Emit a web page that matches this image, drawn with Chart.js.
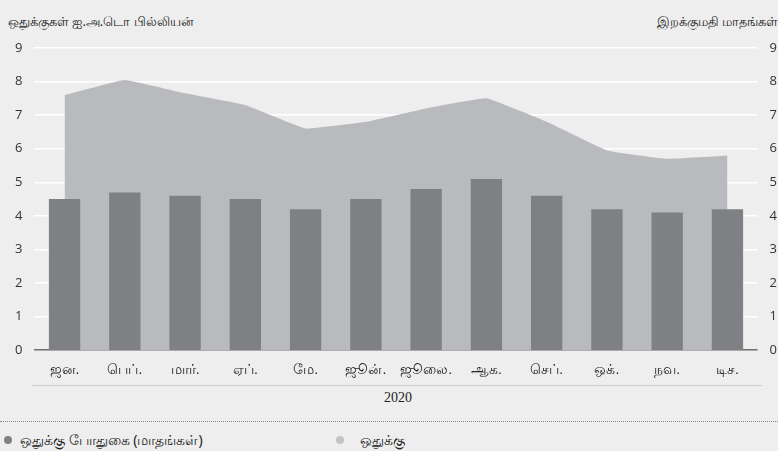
<!DOCTYPE html>
<html>
<head>
<meta charset="utf-8">
<script src="https://cdn.jsdelivr.net/npm/chart.js@4/dist/chart.umd.min.js"></script>
<style>
  html, body { margin: 0; padding: 0; }
  body { width: 778px; height: 451px; background: #eeeeee; overflow: hidden; position: relative; font-family: "Noto Sans", "DejaVu Sans", sans-serif; }
  #titreGauche { position: absolute; left: 8px; top: 12px; font-size: 13px; color: #222; }
  #titreDroit { position: absolute; right: 0px; top: 12px; font-size: 13px; color: #222; white-space: nowrap; }
  #boite { position: absolute; left: 0; top: 0; width: 789px; height: 383px; }
  #ligneMois { position: absolute; left: 32px; width: 730px; top: 385px; border-top: 1px solid #cfcfcf; }
  #annee { position: absolute; left: 0; width: 796px; top: 390px; text-align: center; font-family: "Liberation Serif", serif; font-size: 14px; color: #222; }
  #pointilles { position: absolute; left: 0; width: 778px; top: 421px; border-top: 1px dotted #888; }
  .legende { position: absolute; top: 430px; font-size: 14px; color: #222; white-space: nowrap; }
  .rond { display: inline-block; width: 8px; height: 8px; border-radius: 50%; margin-right: 8px; vertical-align: 1px; }
</style>
</head>
<body>
<div id="titreGauche">ஒதுக்குகள் ஐ.அ.டொ பில்லியன்</div>
<div id="titreDroit">இறக்குமதி மாதங்கள்</div>
<div id="boite"><canvas id="graficoPrincipal"></canvas></div>
<div id="ligneMois"></div>
<div id="annee">2020</div>
<div id="pointilles"></div>
<div class="legende" style="left:4px"><span class="rond" style="background:#7f8083"></span>ஒதுக்கு போதுகை (மாதங்கள்)</div>
<div class="legende" style="left:336px"><span class="rond" style="background:#c3c4c6;margin-right:16px"></span>ஒதுக்கு</div>
<script>
var meses = ["ஜன.", "பெப்.", "மார்.", "ஏப்.", "மே.", "ஜூன்.", "ஜூலை.", "ஆக.", "செப்.", "ஒக்.", "நவ.", "டிச."];
var mesesImportacao = [4.5, 4.7, 4.6, 4.5, 4.2, 4.5, 4.8, 5.1, 4.6, 4.2, 4.1, 4.2];
var reservas = [7.6, 8.05, 7.65, 7.3, 6.6, 6.8, 7.2, 7.5, 6.8, 5.95, 5.7, 5.8];
var ticksEixo = [0, 1, 2, 3, 4, 5, 6, 7, 8, 9];

var fonteTicks = { family: "Open Sans, Noto Sans, sans-serif", size: 13 };

var contexto = graficoPrincipal.getContext("2d");
new Chart(contexto, {
  type: "bar",
  data: {
    labels: meses,
    datasets: [
      {
        type: "bar",
        label: "ஒதுக்கு போதுகை (மாதங்கள்)",
        data: mesesImportacao,
        backgroundColor: "#7f8083",
        barPercentage: 0.52,
        categoryPercentage: 1,
        yAxisID: "y1",
        order: 0
      },
      {
        type: "line",
        label: "ஒதுக்கு",
        data: reservas,
        backgroundColor: "#b9babd",
        borderWidth: 0,
        pointRadius: 0,
        fill: "origin",
        tension: 0.08,
        yAxisID: "y",
        order: 1
      }
    ]
  },
  options: {
    responsive: true,
    maintainAspectRatio: false,
    animation: false,
    layout: { padding: { top: 48, left: 3, right: 0, bottom: 0 } },
    plugins: {
      legend: { display: false },
      tooltip: { enabled: false }
    },
    scales: {
      x: {
        offset: true,
        grid: { display: false },
        border: { display: false },
        ticks: { color: "#222", font: { size: 14 }, padding: 4, maxRotation: 0 }
      },
      y: {
        position: "left",
        min: 0,
        max: 9,
        afterBuildTicks: function (eixo) { eixo.ticks = ticksEixo.map(function (v) { return { value: v }; }); },
        grid: {
          color: function (c) { return c.tick && c.tick.value === 0 ? "#6f6f6f" : "#ffffff"; },
          lineWidth: 1.5,
          drawTicks: false
        },
        border: { display: false },
        ticks: { color: "#333", font: fonteTicks, padding: 12 }
      },
      y1: {
        position: "right",
        min: 0,
        max: 9,
        afterBuildTicks: function (eixo) { eixo.ticks = ticksEixo.map(function (v) { return { value: v }; }); },
        grid: { display: false, drawTicks: false },
        border: { display: false },
        ticks: { color: "#333", font: fonteTicks, padding: 12 }
      }
    }
  }
});
</script>
</body>
</html>
